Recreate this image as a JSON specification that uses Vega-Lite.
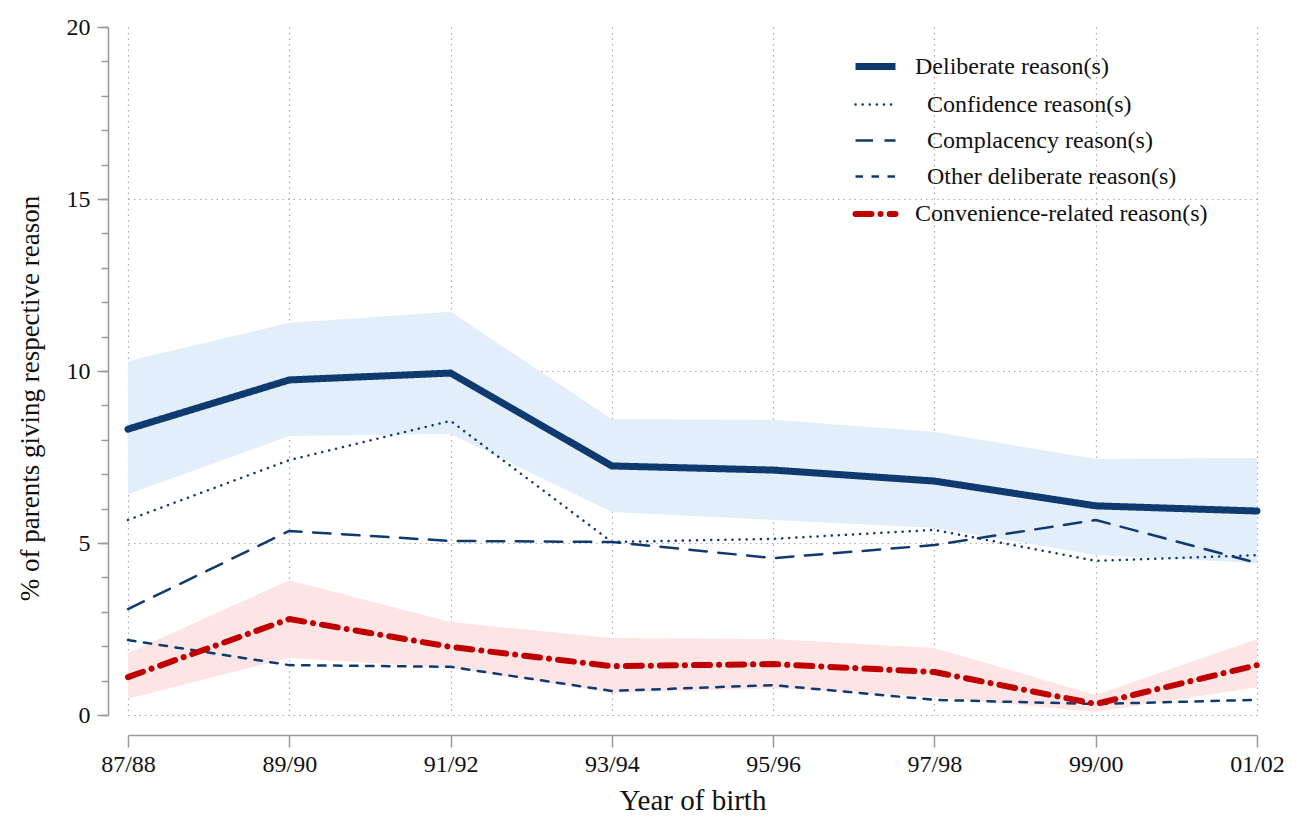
{
  "$schema": "https://vega.github.io/schema/vega-lite/v6.json",
  "width": 1129,
  "height": 688,
  "autosize": {"type": "none"},
  "padding": {"left": 128, "top": 27, "right": 46, "bottom": 105},
  "background": "white",
  "config": {
    "view": {"stroke": null},
    "font": "Liberation Serif",
    "axis": {"labelFont": "Liberation Serif", "titleFont": "Liberation Serif", "titleFontWeight": "normal", "labelColor": "#111", "titleColor": "#111", "domainColor": "#999", "tickColor": "#999", "domainWidth": 1.5, "tickWidth": 1.5}
  },
  "datasets": {
    "bands": [
      {"year": "87/88", "band": "Deliberate", "lo": 6.42, "hi": 10.29},
      {"year": "89/90", "band": "Deliberate", "lo": 8.11, "hi": 11.40},
      {"year": "91/92", "band": "Deliberate", "lo": 8.17, "hi": 11.72},
      {"year": "93/94", "band": "Deliberate", "lo": 5.90, "hi": 8.60},
      {"year": "95/96", "band": "Deliberate", "lo": 5.67, "hi": 8.58},
      {"year": "97/98", "band": "Deliberate", "lo": 5.44, "hi": 8.23},
      {"year": "99/00", "band": "Deliberate", "lo": 4.65, "hi": 7.44},
      {"year": "01/02", "band": "Deliberate", "lo": 4.42, "hi": 7.47},
      {"year": "87/88", "band": "Convenience", "lo": 0.47, "hi": 1.80},
      {"year": "89/90", "band": "Convenience", "lo": 1.66, "hi": 3.92},
      {"year": "91/92", "band": "Convenience", "lo": 1.37, "hi": 2.70},
      {"year": "93/94", "band": "Convenience", "lo": 0.64, "hi": 2.24},
      {"year": "95/96", "band": "Convenience", "lo": 0.78, "hi": 2.21},
      {"year": "97/98", "band": "Convenience", "lo": 0.52, "hi": 1.95},
      {"year": "99/00", "band": "Convenience", "lo": 0.09, "hi": 0.58},
      {"year": "01/02", "band": "Convenience", "lo": 0.81, "hi": 2.21}
    ],
    "lines": [
      {"year": "87/88", "series": "Deliberate reason(s)", "value": 8.31},
      {"year": "89/90", "series": "Deliberate reason(s)", "value": 9.74},
      {"year": "91/92", "series": "Deliberate reason(s)", "value": 9.94},
      {"year": "93/94", "series": "Deliberate reason(s)", "value": 7.24},
      {"year": "95/96", "series": "Deliberate reason(s)", "value": 7.12},
      {"year": "97/98", "series": "Deliberate reason(s)", "value": 6.80},
      {"year": "99/00", "series": "Deliberate reason(s)", "value": 6.08},
      {"year": "01/02", "series": "Deliberate reason(s)", "value": 5.93},
      {"year": "87/88", "series": "Confidence reason(s)", "value": 5.67},
      {"year": "89/90", "series": "Confidence reason(s)", "value": 7.41},
      {"year": "91/92", "series": "Confidence reason(s)", "value": 8.55},
      {"year": "93/94", "series": "Confidence reason(s)", "value": 5.03},
      {"year": "95/96", "series": "Confidence reason(s)", "value": 5.12},
      {"year": "97/98", "series": "Confidence reason(s)", "value": 5.38},
      {"year": "99/00", "series": "Confidence reason(s)", "value": 4.48},
      {"year": "01/02", "series": "Confidence reason(s)", "value": 4.65},
      {"year": "87/88", "series": "Complacency reason(s)", "value": 3.08},
      {"year": "89/90", "series": "Complacency reason(s)", "value": 5.35},
      {"year": "91/92", "series": "Complacency reason(s)", "value": 5.06},
      {"year": "93/94", "series": "Complacency reason(s)", "value": 5.03},
      {"year": "95/96", "series": "Complacency reason(s)", "value": 4.56},
      {"year": "97/98", "series": "Complacency reason(s)", "value": 4.94},
      {"year": "99/00", "series": "Complacency reason(s)", "value": 5.67},
      {"year": "01/02", "series": "Complacency reason(s)", "value": 4.42},
      {"year": "87/88", "series": "Other deliberate reason(s)", "value": 2.18},
      {"year": "89/90", "series": "Other deliberate reason(s)", "value": 1.45},
      {"year": "91/92", "series": "Other deliberate reason(s)", "value": 1.40},
      {"year": "93/94", "series": "Other deliberate reason(s)", "value": 0.70},
      {"year": "95/96", "series": "Other deliberate reason(s)", "value": 0.87},
      {"year": "97/98", "series": "Other deliberate reason(s)", "value": 0.44},
      {"year": "99/00", "series": "Other deliberate reason(s)", "value": 0.32},
      {"year": "01/02", "series": "Other deliberate reason(s)", "value": 0.44},
      {"year": "87/88", "series": "Convenience-related reason(s)", "value": 1.10},
      {"year": "89/90", "series": "Convenience-related reason(s)", "value": 2.79},
      {"year": "91/92", "series": "Convenience-related reason(s)", "value": 1.98},
      {"year": "93/94", "series": "Convenience-related reason(s)", "value": 1.42},
      {"year": "95/96", "series": "Convenience-related reason(s)", "value": 1.48},
      {"year": "97/98", "series": "Convenience-related reason(s)", "value": 1.25},
      {"year": "99/00", "series": "Convenience-related reason(s)", "value": 0.32},
      {"year": "01/02", "series": "Convenience-related reason(s)", "value": 1.45}
    ]
  },
  "layer": [
    {
      "data": {"name": "bands"},
      "transform": [{"filter": "datum.band === 'Deliberate'"}],
      "mark": {"type": "area", "fill": "#e2effb", "opacity": 1},
      "encoding": {
        "x": {"field": "year", "type": "ordinal", "sort": ["87/88","89/90","91/92","93/94","95/96","97/98","99/00","01/02"], "scale": {"type": "point", "padding": 0},
          "axis": {"title": "Year of birth", "titleFontSize": 29, "titlePadding": 10, "labelFontSize": 24, "labelAngle": 0, "labelPadding": 5, "tickSize": 12, "offset": 20, "grid": true, "gridDash": [1.5, 4], "gridColor": "#aaaaaa", "gridWidth": 1.2}},
        "y": {"field": "lo", "type": "quantitative", "scale": {"domain": [0, 20], "nice": false, "zero": false},
          "axis": {"orient": "left", "values": [0,1,2,3,4,5,6,7,8,9,10,11,12,13,14,15,16,17,18,19,20], "labels": false, "title": null, "tickSize": 7, "grid": false, "domain": true, "offset": 20}},
        "y2": {"field": "hi"}
      }
    },
    {
      "data": {"name": "bands"},
      "transform": [{"filter": "datum.band === 'Convenience'"}],
      "mark": {"type": "area", "fill": "#fde5e5", "opacity": 1},
      "encoding": {
        "x": {"field": "year", "type": "ordinal", "sort": ["87/88","89/90","91/92","93/94","95/96","97/98","99/00","01/02"]},
        "y": {"field": "lo", "type": "quantitative",
          "axis": {"orient": "left", "values": [0, 5, 10, 15], "labels": false, "ticks": false, "domain": false, "title": null, "grid": true, "gridDash": [1.5, 4], "gridColor": "#aaaaaa", "gridWidth": 1.2}},
        "y2": {"field": "hi"}
      }
    },
    {
      "data": {"name": "lines"},
      "mark": {"type": "line", "strokeCap": "round", "strokeJoin": "round"},
      "encoding": {
        "x": {"field": "year", "type": "ordinal", "sort": ["87/88","89/90","91/92","93/94","95/96","97/98","99/00","01/02"]},
        "y": {"field": "value", "type": "quantitative",
          "axis": {"orient": "left", "values": [0, 5, 10, 15, 20], "title": "% of parents giving respective reason", "titleFontSize": 27, "titlePadding": 22, "titleY": 371, "labelFontSize": 24, "labelPadding": 7, "tickSize": 11, "domain": false, "grid": false, "offset": 20}},
        "detail": {"field": "series"},
        "stroke": {"field": "series", "type": "nominal",
          "scale": {"domain": ["Deliberate reason(s)", "Confidence reason(s)", "Complacency reason(s)", "Other deliberate reason(s)", "Convenience-related reason(s)"], "range": ["#0f3a70", "#0f3a70", "#0f3a70", "#0f3a70", "#c00000"]},
          "legend": {"title": null, "orient": "none", "legendX": 724, "legendY": 16, "symbolType": "stroke", "symbolSize": 1600, "labelFontSize": 24, "labelFont": "Liberation Serif", "labelColor": "#111", "labelOffset": 16, "rowPadding": 2, "labelLimit": 400,
            "labelExpr": "(datum.label == 'Deliberate reason(s)' || datum.label == 'Convenience-related reason(s)') ? datum.label : '\u200b\u2002' + datum.label",
            "encode": {"symbols": {"update": {"strokeCap": {"signal": "(datum.value === 'Confidence reason(s)' || datum.value === 'Convenience-related reason(s)') ? 'round' : 'butt'"}}}}}},
        "strokeDash": {"field": "series", "type": "nominal",
          "scale": {"domain": ["Deliberate reason(s)", "Confidence reason(s)", "Complacency reason(s)", "Other deliberate reason(s)", "Convenience-related reason(s)"], "range": [[1, 0], [0.1, 7], [17.5, 11.5], [7.5, 8.5], [16, 9, 0.1, 9]]},
          "legend": {"title": null, "orient": "none", "legendX": 724, "legendY": 16, "symbolType": "stroke", "symbolSize": 1600, "labelFontSize": 24, "labelFont": "Liberation Serif", "labelColor": "#111", "labelOffset": 16, "rowPadding": 2, "labelLimit": 400,
            "labelExpr": "(datum.label == 'Deliberate reason(s)' || datum.label == 'Convenience-related reason(s)') ? datum.label : '\u200b\u2002' + datum.label",
            "encode": {"symbols": {"update": {"strokeCap": {"signal": "(datum.value === 'Confidence reason(s)' || datum.value === 'Convenience-related reason(s)') ? 'round' : 'butt'"}}}}}},
        "strokeWidth": {"field": "series", "type": "nominal",
          "scale": {"type": "ordinal", "domain": ["Deliberate reason(s)", "Confidence reason(s)", "Complacency reason(s)", "Other deliberate reason(s)", "Convenience-related reason(s)"], "range": [7, 2.5, 2.5, 2.5, 6]},
          "legend": {"title": null, "orient": "none", "legendX": 724, "legendY": 16, "symbolType": "stroke", "symbolSize": 1600, "labelFontSize": 24, "labelFont": "Liberation Serif", "labelColor": "#111", "labelOffset": 16, "rowPadding": 2, "labelLimit": 400,
            "labelExpr": "(datum.label == 'Deliberate reason(s)' || datum.label == 'Convenience-related reason(s)') ? datum.label : '\u200b\u2002' + datum.label",
            "encode": {"symbols": {"update": {"strokeCap": {"signal": "(datum.value === 'Confidence reason(s)' || datum.value === 'Convenience-related reason(s)') ? 'round' : 'butt'"}}}}}}
      }
    }
  ],
  "resolve": {"axis": {"y": "independent"}}
}
